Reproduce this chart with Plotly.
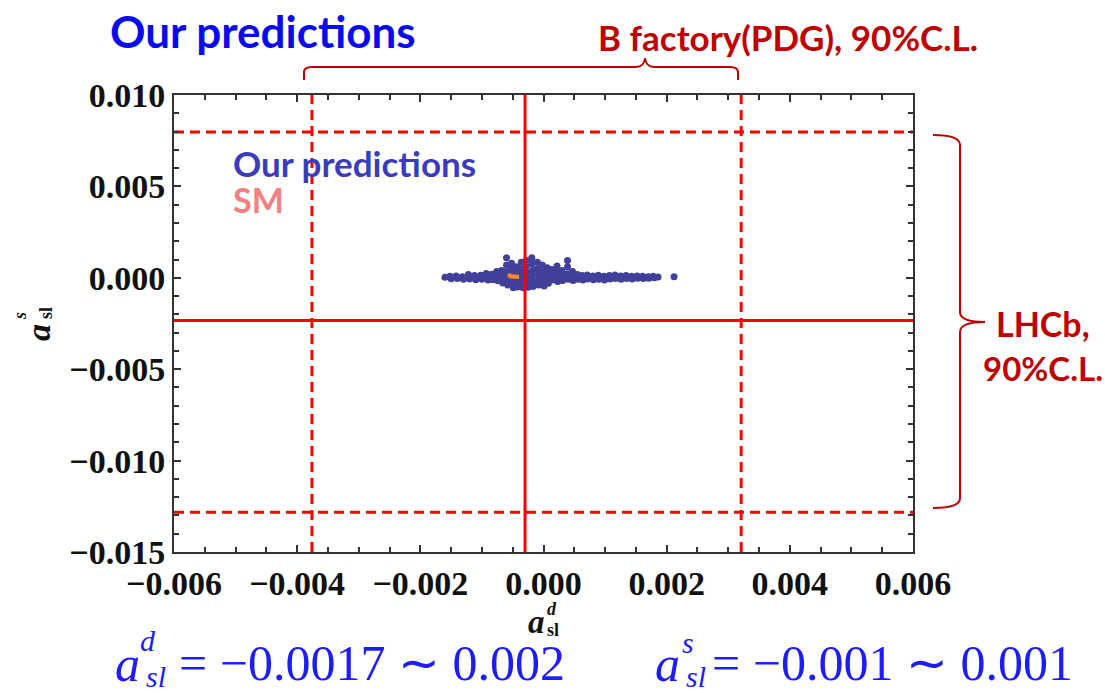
import plotly.graph_objects as go

# ---------------- data ----------------
pred_x = [
    -0.00160, -0.00152, -0.00150, -0.00142, -0.00140, -0.00132, -0.00130, -0.00122, -0.00120,
    -0.00112, -0.00110, -0.00102, -0.00100, -0.00093, -0.00092, -0.00090, -0.00084, -0.00082,
    -0.00076, -0.00075, -0.00074,
    -0.00068, -0.00068, -0.00067, -0.00066,
    -0.00060, -0.00060, -0.00060, -0.00060, -0.00059, -0.00058,
    -0.00052, -0.00052, -0.00051, -0.00050, -0.00050, -0.00049,
    -0.00044, -0.00044, -0.00043, -0.00042, -0.00042,
    -0.00036, -0.00036, -0.00035, -0.00034, -0.00034, -0.00033,
    -0.00028, -0.00028, -0.00027, -0.00026, -0.00026, -0.00025,
    -0.00019, -0.00019, -0.00018, -0.00018, -0.00017, -0.00017,
    -0.00010, -0.00010, -0.00009, -0.00009, -0.00008,
    -0.00002, -0.00002, -0.00001, 0.00000, 0.00001,
    0.00006, 0.00007, 0.00007, 0.00008,
    0.00014, 0.00015, 0.00015,
    0.00022, 0.00022, 0.00023, 0.00023,
    0.00030, 0.00031, 0.00031,
    0.00039, 0.00039, 0.00039, 0.00040,
    0.00047, 0.00047, 0.00048,
    0.00055, 0.00056, 0.00063, 0.00064, 0.00071, 0.00072, 0.00080, 0.00081,
    0.00089, 0.00090, 0.00098, 0.00099, 0.00107, 0.00108, 0.00116, 0.00117,
    0.00125, 0.00126, 0.00134, 0.00135, 0.00143, 0.00144, 0.00152, 0.00153,
    0.00161, 0.00162, 0.00170, 0.00171, 0.00178, 0.00180, 0.00186,
    0.00212,
]
pred_y = [
    0.00003, 0.00008, -0.00005, 0.00010, -0.00004, 0.00006, -0.00008, 0.00018, -0.00006,
    0.00012, -0.00010, 0.00014, -0.00008, 0.00024, 0.00002, -0.00012, 0.00020, -0.00010,
    0.00034, 0.00010, -0.00016,
    0.00040, 0.00015, -0.00012, -0.00028,
    0.00110, 0.00070, 0.00035, 0.00005, -0.00020, -0.00040,
    0.00080, 0.00048, 0.00020, -0.00010, -0.00035, -0.00055,
    0.00060, 0.00030, 0.00000, -0.00025, -0.00050,
    0.00085, 0.00050, 0.00020, -0.00010, -0.00040, -0.00055,
    0.00095, 0.00060, 0.00028, -0.00005, -0.00035, -0.00052,
    0.00110, 0.00075, 0.00040, 0.00008, -0.00022, -0.00048,
    0.00085, 0.00050, 0.00018, -0.00015, -0.00040,
    0.00070, 0.00035, 0.00005, -0.00025, -0.00045,
    0.00055, 0.00025, -0.00005, -0.00030,
    0.00045, 0.00015, -0.00012,
    0.00065, 0.00030, 0.00002, -0.00020,
    0.00040, 0.00010, -0.00015,
    0.00095, 0.00060, 0.00022, -0.00008,
    0.00035, 0.00008, -0.00015,
    0.00018, -0.00008, 0.00012, -0.00012, 0.00016, -0.00006, 0.00010, -0.00010,
    0.00014, -0.00008, 0.00008, -0.00012, 0.00012, -0.00006, 0.00016, -0.00004,
    0.00010, -0.00008, 0.00012, -0.00004, 0.00008, -0.00006, 0.00010, -0.00002,
    0.00008, -0.00004, 0.00006, -0.00002, 0.00008, 0.00000, 0.00004,
    0.00006,
]
sm_x = [-0.00055, -0.00051, -0.00047, -0.00043]
sm_y = [0.00012, 0.00007, 0.00007, 0.00005]

# experimental bounds
pdg_bounds_x = [-0.00376, 0.00321]   # B factory (PDG), 90% C.L. (dashed)
pdg_center_x = -0.00030              # solid vertical
lhcb_bounds_y = [0.00798, -0.01283]  # LHCb, 90% C.L. (dashed)
lhcb_center_y = -0.00233             # solid horizontal

x_range = [-0.006, 0.006]
y_range = [-0.015, 0.010]

# ---------------- geometry helpers (pixel -> paper) ----------------
L, R, T, B = 174, 913, 95, 552
W, H = 1105, 693


def px(x):
    return (x - L) / (R - L)


def py(y):
    return (B - y) / (B - T)


fig = go.Figure()

fig.add_trace(go.Scatter(
    x=pred_x, y=pred_y, mode="markers",
    marker=dict(size=7, color="#40409a", line=dict(width=0)),
    hoverinfo="skip"))

red = "#ff0000"
for xv in pdg_bounds_x:
    fig.add_trace(go.Scatter(x=[xv, xv], y=y_range, mode="lines",
                             line=dict(color=red, width=3, dash="10px,6px"), hoverinfo="skip"))
for yv in lhcb_bounds_y:
    fig.add_trace(go.Scatter(x=x_range, y=[yv, yv], mode="lines",
                             line=dict(color=red, width=3, dash="10px,6px"), hoverinfo="skip"))
fig.add_trace(go.Scatter(x=[pdg_center_x, pdg_center_x], y=y_range, mode="lines",
                         line=dict(color=red, width=3), hoverinfo="skip"))
fig.add_trace(go.Scatter(x=x_range, y=[lhcb_center_y, lhcb_center_y], mode="lines",
                         line=dict(color=red, width=3), hoverinfo="skip"))

fig.add_trace(go.Scatter(
    x=sm_x, y=sm_y, mode="markers",
    marker=dict(size=4, color="#ff8c1a", symbol="square", line=dict(width=0)),
    hoverinfo="skip"))

tickfont = dict(family="Liberation Serif", size=34, color="#111111", weight="bold")
axis_common = dict(showline=True, linecolor="#333333", linewidth=2, mirror="allticks",
                   ticks="inside", ticklen=7, tickwidth=1.5, tickcolor="#333333",
                   showgrid=False, zeroline=False, tickfont=tickfont)
fig.update_xaxes(range=x_range, dtick=0.002, tick0=0, tickformat=".3f",
                 minor=dict(dtick=0.0005, ticks="inside", ticklen=5, tickcolor="#333333"),
                 **axis_common)
fig.update_yaxes(range=y_range, dtick=0.005, tick0=0, tickformat=".3f",
                 minor=dict(dtick=0.001, ticks="inside", ticklen=5, tickcolor="#333333"),
                 ticklabelstandoff=0, **axis_common)

dark_red = "#c00000"
ann = []
# top title
ann.append(dict(x=px(109), y=py(31), text="<b>Our predictions</b>", xanchor="left", yanchor="middle",
                font=dict(family="Lato", size=44, color="#0a0af0")))
ann.append(dict(x=px(597), y=py(37), text="<b>B factory(PDG), 90%C.L.</b>", xanchor="left", yanchor="middle",
                font=dict(family="Lato", size=35, color=dark_red)))
ann.append(dict(x=px(1043), y=py(323), text="<b>LHCb,</b>", xanchor="center", yanchor="middle",
                font=dict(family="Lato", size=34, color=dark_red)))
ann.append(dict(x=px(1043), y=py(368), text="<b>90%C.L.</b>", xanchor="center", yanchor="middle",
                font=dict(family="Lato", size=33, color=dark_red)))
# in-plot legend
ann.append(dict(x=px(232), y=py(163), text="<b>Our predictions</b>", xanchor="left", yanchor="middle",
                font=dict(family="Lato", size=35, color="#3b3bbf")))
ann.append(dict(x=px(232), y=py(199), text="<b>SM</b>", xanchor="left", yanchor="middle",
                font=dict(family="Lato", size=34, color="#f58080")))
# axis titles
ann.append(dict(x=px(536), y=py(622), text="<b><i>a</i></b>", xanchor="center", yanchor="middle",
                font=dict(family="Liberation Serif", size=33, color="#111111")))
ann.append(dict(x=px(552), y=py(609), text="<b><i>d</i></b>", xanchor="center", yanchor="middle",
                font=dict(family="Liberation Serif", size=18, color="#111111")))
ann.append(dict(x=px(553), y=py(630), text="<b>sl</b>", xanchor="center", yanchor="middle",
                font=dict(family="Liberation Serif", size=18, color="#111111")))
ann.append(dict(x=px(38), y=py(333), text="<b><i>a</i></b>", xanchor="center", yanchor="middle", textangle=-90,
                font=dict(family="Liberation Serif", size=34, color="#111111")))
ann.append(dict(x=px(20), y=py(316), text="<b><i>s</i></b>", xanchor="center", yanchor="middle", textangle=-90,
                font=dict(family="Liberation Serif", size=18, color="#111111")))
ann.append(dict(x=px(46), y=py(313), text="<b>sl</b>", xanchor="center", yanchor="middle", textangle=-90,
                font=dict(family="Liberation Serif", size=18, color="#111111")))
# bottom formulas
blue = "#1c1cff"
ann.append(dict(x=px(127), y=py(664), text="<i>a</i>", xanchor="center", yanchor="middle",
                font=dict(family="Liberation Serif", size=50, color=blue)))
ann.append(dict(x=px(148), y=py(640), text="<i>d</i>", xanchor="center", yanchor="middle",
                font=dict(family="Liberation Serif", size=30, color=blue)))
ann.append(dict(x=px(156), y=py(676), text="<i>sl</i>", xanchor="center", yanchor="middle",
                font=dict(family="Liberation Serif", size=30, color=blue)))
ann.append(dict(x=px(178), y=py(663), text="= −0.0017 ∼ 0.002", xanchor="left", yanchor="middle",
                font=dict(family="Liberation Serif", size=50, color=blue)))
ann.append(dict(x=px(667), y=py(664), text="<i>a</i>", xanchor="center", yanchor="middle",
                font=dict(family="Liberation Serif", size=50, color=blue)))
ann.append(dict(x=px(688), y=py(642), text="<i>s</i>", xanchor="center", yanchor="middle",
                font=dict(family="Liberation Serif", size=30, color=blue)))
ann.append(dict(x=px(696), y=py(676), text="<i>sl</i>", xanchor="center", yanchor="middle",
                font=dict(family="Liberation Serif", size=30, color=blue)))
ann.append(dict(x=px(711), y=py(663), text="= −0.001 ∼ 0.001", xanchor="left", yanchor="middle",
                font=dict(family="Liberation Serif", size=50, color=blue)))

for a in ann:
    a.update(xref="paper", yref="paper", showarrow=False, borderpad=0)


def path(points):
    parts = []
    for cmd, *coords in points:
        pts = []
        for i in range(0, len(coords), 2):
            pts.append(f"{px(coords[i]):.5f},{py(coords[i+1]):.5f}")
        parts.append(cmd + " " + " ".join(pts))
    return " ".join(parts)


top_brace = path([
    ("M", 304, 80), ("L", 304, 72), ("Q", 304, 67, 312, 67), ("L", 636, 67),
    ("Q", 644, 67, 645, 58), ("Q", 646, 67, 654, 67), ("L", 730, 67),
    ("Q", 738, 67, 738, 72), ("L", 738, 80),
])
right_brace = path([
    ("M", 933, 135), ("Q", 960, 135, 960, 145), ("L", 960, 312),
    ("Q", 960, 322, 985, 322), ("Q", 960, 322, 960, 332), ("L", 960, 498),
    ("Q", 960, 508, 933, 508),
])

shapes = [
    dict(type="path", path=top_brace, xref="paper", yref="paper",
         line=dict(color=dark_red, width=2)),
    dict(type="path", path=right_brace, xref="paper", yref="paper",
         line=dict(color=dark_red, width=2)),
]

fig.update_layout(width=W, height=H, margin=dict(l=L, r=W - R, t=T, b=H - B),
                  plot_bgcolor="white", paper_bgcolor="white", showlegend=False,
                  annotations=ann, shapes=shapes)

fig.write_html("out.html")
